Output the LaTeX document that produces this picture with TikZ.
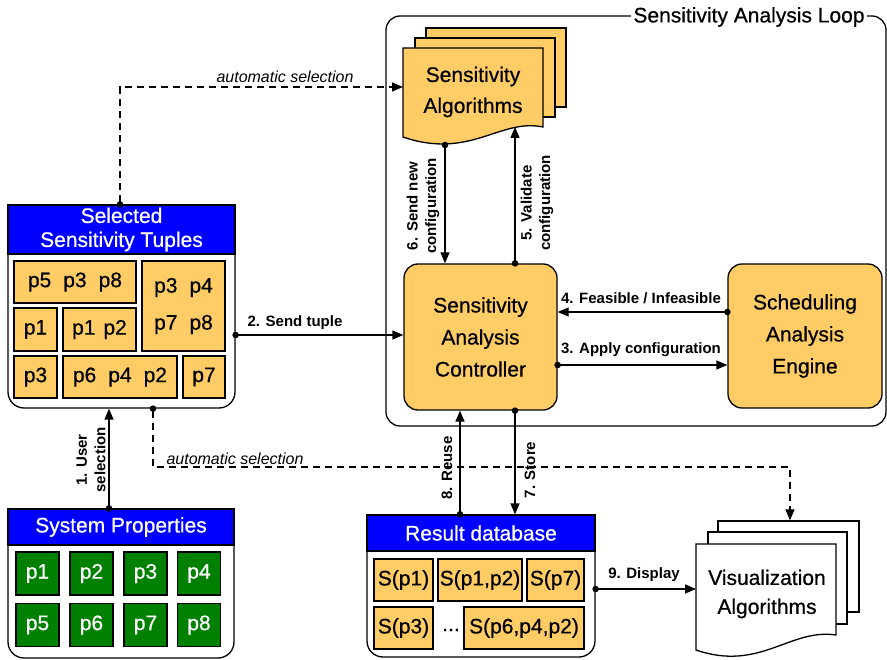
\documentclass[tikz,border=0pt]{standalone}
\usepackage{fontspec}
\setmainfont{Liberation Sans}
\newfontfamily\medfont{Liberation Sans}[FakeBold=0.6]
\usetikzlibrary{arrows.meta}
\definecolor{orng}{RGB}{255,204,102}
\definecolor{grn}{RGB}{0,128,0}
\definecolor{hblue}{RGB}{0,0,255}
\newcommand{\bigfnt}{\medfont\fontsize{21}{25}\selectfont}
\newcommand{\labfnt}{\fontsize{15}{18.5}\selectfont\bfseries}
\newcommand{\autofnt}{\fontsize{16}{19}\selectfont\itshape}
\tikzset{
  base/.style={line width=1.3pt},
  con/.style={base, {Circle[length=6.5pt]}-{Triangle[length=11pt,width=9pt]}, shorten <=-3.25pt},
  dcon/.style={con, dash pattern=on 7pt off 5pt},
  procbox/.style={draw, base, fill=orng, rounded corners=14pt, font=\medfont\fontsize{21}{32}\selectfont, align=center, inner sep=0pt},
  tup/.style={draw, line width=1.2pt, fill=orng, inner sep=0pt, font=\bigfnt},
  prop/.style={draw, line width=1.2pt, fill=grn, text=white, inner sep=0pt, font=\bigfnt, minimum width=43pt, minimum height=43pt},
  hdr/.style={draw, base, fill=hblue, text=white, font=\medfont\fontsize{21}{24}\selectfont, align=center, inner sep=0pt},
  cont/.style={draw, base, fill=white, rounded corners=16pt, inner sep=0pt},
  docpage/.style={draw, base, inner sep=0pt},
  lab/.style={font=\labfnt, inner sep=1pt},
  rlab/.style={font=\labfnt, align=center, rotate=90, inner sep=1pt},
  autolab/.style={font=\autofnt, inner sep=1pt}
}
\begin{document}
\begin{tikzpicture}[x=1pt,y=-1pt]
\useasboundingbox (0,0) rectangle (887,660);

% Sensitivity analysis loop frame
\node[draw, base, rounded corners=14pt, minimum width=500pt, minimum height=410pt, inner sep=0pt] (loop) at (636,221) {};
\node[fill=white, inner sep=2pt, font=\bigfnt] (looptitle) at (749,17) {Sensitivity Analysis Loop};

% Sensitivity algorithms (document stack)
\node[docpage, fill=orng, minimum width=140pt, minimum height=79pt] (algback) at (496,67.5) {};
\node[docpage, fill=orng, minimum width=140pt, minimum height=79pt] (algmid) at (485,77.5) {};
\draw[base, fill=orng] (403,48) -- (543,48) -- (543,127) .. controls (500,118) and (470,160) .. (403,137) -- cycle;
\node[font=\medfont\fontsize{21}{31}\selectfont, align=center] (salg) at (473,92) {Sensitivity\\Algorithms};
\coordinate (algleft) at (403,87);
\coordinate (alg6) at (445,145);
\coordinate (alg5) at (515,127);

% Controller and engine
\node[procbox, minimum width=153pt, minimum height=146pt] (sac) at (480.5,337) {Sensitivity\\Analysis\\Controller};
\node[procbox, minimum width=154pt, minimum height=144pt] (sae) at (805,336) {Scheduling\\Analysis\\Engine};

% Selected sensitivity tuples
\node[cont, minimum width=227pt, minimum height=203pt] (tuples) at (121.5,306.5) {};
\node[hdr, minimum width=227pt, minimum height=49pt] (tupleshdr) at (121.5,229.5) {Selected\\Sensitivity Tuples};
\node[tup, minimum width=122pt, minimum height=42pt] (t1) at (75,282) {p5\hspace{12pt}p3\hspace{12pt}p8};
\node[tup, minimum width=83pt, minimum height=90pt, align=center, font=\medfont\fontsize{21}{37}\selectfont] (t2) at (183.5,306) {p3\hspace{12pt}p4\\p7\hspace{12pt}p8};
\node[tup, minimum width=43pt, minimum height=43pt] (t3) at (35.5,329.5) {p1};
\node[tup, minimum width=73pt, minimum height=43pt] (t4) at (99.5,329.5) {p1\hspace{8pt}p2};
\node[tup, minimum width=43pt, minimum height=42pt] (t5) at (35.5,377) {p3};
\node[tup, minimum width=114pt, minimum height=42pt] (t6) at (120,377) {p6\hspace{12pt}p4\hspace{12pt}p2};
\node[tup, minimum width=42pt, minimum height=42pt] (t7) at (204,377) {p7};

% System properties
\node[cont, minimum width=226pt, minimum height=149pt] (sysp) at (121,583.5) {};
\node[hdr, minimum width=226pt, minimum height=36pt] (sysphdr) at (121,527) {System Properties};
\node[prop] (p1) at (37.5,573.5) {p1};
\node[prop] (p2) at (91.5,573.5) {p2};
\node[prop] (p3) at (145.5,573.5) {p3};
\node[prop] (p4) at (199,573.5) {p4};
\node[prop] (p5) at (37.5,625) {p5};
\node[prop] (p6) at (91.5,625) {p6};
\node[prop] (p7) at (145.5,625) {p7};
\node[prop] (p8) at (199,625) {p8};

% Result database
\node[cont, minimum width=228pt, minimum height=142pt] (resdb) at (481,586) {};
\node[hdr, minimum width=228pt, minimum height=36pt] (reshdr) at (481,533) {Result database};
\node[tup, minimum width=59pt, minimum height=42pt] (r1) at (403.5,580) {S(p1)};
\node[tup, minimum width=84pt, minimum height=42pt] (r2) at (480,580) {S(p1,p2)};
\node[tup, minimum width=57pt, minimum height=42pt] (r3) at (555.5,580) {S(p7)};
\node[tup, minimum width=59pt, minimum height=42pt] (r4) at (403.5,628) {S(p3)};
\node[font=\bigfnt, inner sep=0pt] (rdots) at (451,630) {...};
\node[tup, minimum width=120pt, minimum height=42pt] (r5) at (524,628) {S(p6,p4,p2)};

% Visualization algorithms (document stack)
\node[docpage, fill=white, minimum width=141pt, minimum height=91pt] (visback) at (788.5,566.5) {};
\node[docpage, fill=white, minimum width=139pt, minimum height=92pt] (vismid) at (777.5,578) {};
\draw[base, fill=white] (696,544) -- (836,544) -- (836,635) .. controls (790,628) and (760,672) .. (696,650) -- cycle;
\node[font=\medfont\fontsize{21}{29}\selectfont, align=center] (valg) at (767,594) {Visualization\\Algorithms};
\coordinate (visleft) at (696,589);

% Connectors
\draw[con] (tuples.east |- 0,335) -- (sac.west |- 0,335);
\node[lab] (l2) at (295,323) {2. Send tuple};

\draw[con] (sae.west |- 0,312) -- (sac.east |- 0,312);
\node[lab] (l4) at (641,298) {4. Feasible / Infeasible};
\draw[con] (sac.east |- 0,365) -- (sae.west |- 0,365);
\node[lab] (l3) at (641,350) {3. Apply configuration};

\draw[con] (alg6) -- (445,0 |- sac.north);
\node[rlab] (l6) at (423,206) {6. Send new\\configuration};
\draw[con] (515,0 |- sac.north) -- (alg5);
\node[rlab] (l5) at (537,203) {5. Validate\\configuration};

\draw[con] (460,0 |- reshdr.north) -- (460,0 |- sac.south);
\node[rlab] (l8) at (447,468) {8. Reuse};
\draw[con] (515,0 |- sac.south) -- (515,0 |- reshdr.north);
\node[rlab] (l7) at (530,470) {7. Store};

\draw[con] (resdb.east |- 0,589) -- (visleft);
\node[lab] (l9) at (644,575) {9. Display};

\draw[con] (109,0 |- sysphdr.north) -- (109,0 |- tuples.south);
\node[rlab] (l1) at (91,460) {1. User\\selection};

\draw[dcon] (120,0 |- tupleshdr.north) -- (120,87) -- (algleft);
\node[autolab] (la1) at (285,77) {automatic selection};
\draw[dcon] (153,0 |- tuples.south) -- (153,467) -- (790,467) -- (790,0 |- visback.north);
\node[autolab] (la2) at (235,459) {automatic selection};
\end{tikzpicture}
\end{document}
